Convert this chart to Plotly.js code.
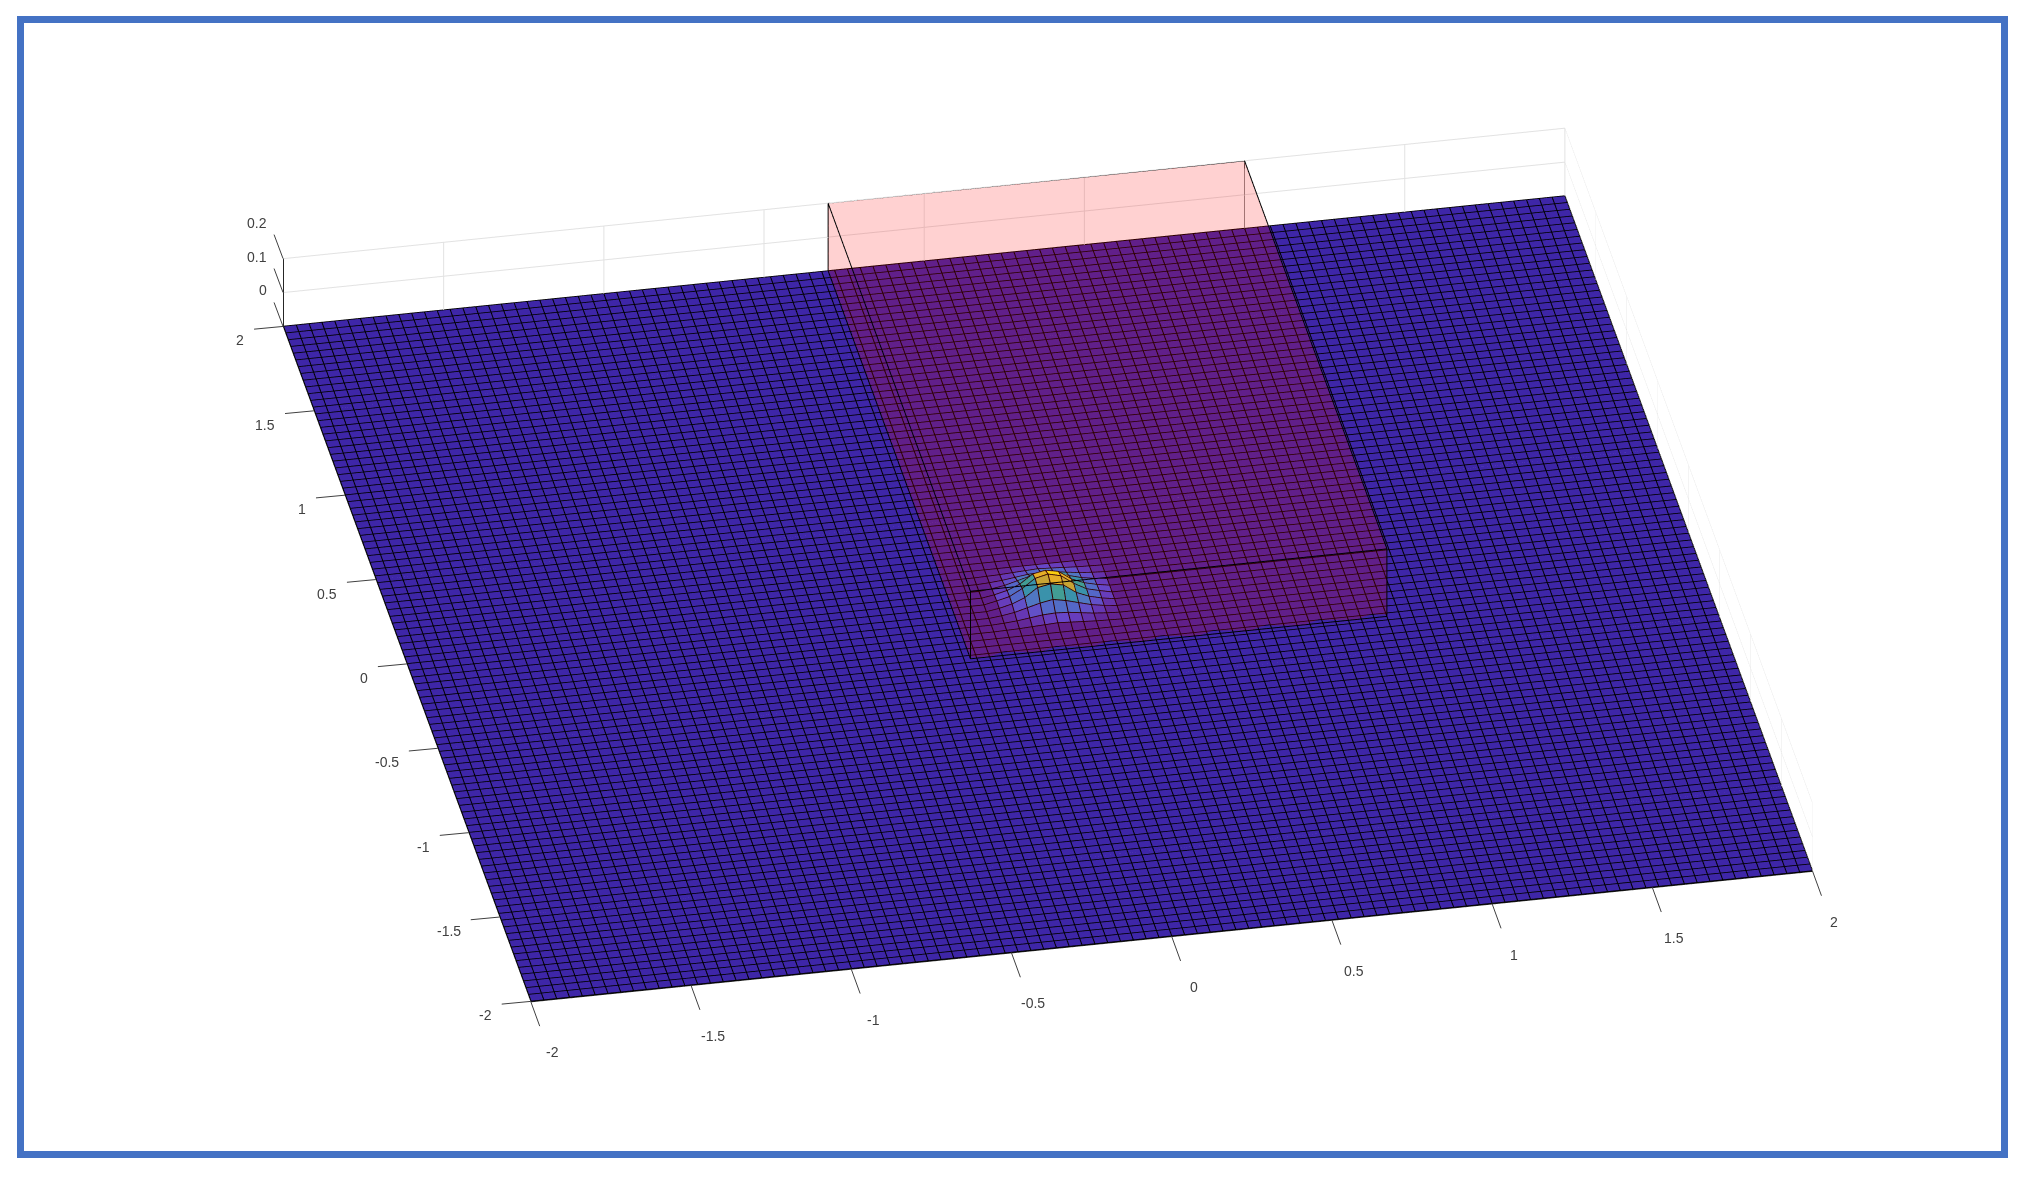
<!DOCTYPE html>
<html>
<head>
<meta charset="utf-8">
<script src="https://cdn.plot.ly/plotly-3.0.1.min.js"></script>
<style>
html, body { margin: 0; padding: 0; background: #fff; overflow: hidden; }
#chart { position: absolute; left: 0; top: 0; width: 2028px; height: 1177px; }
#frame { position: absolute; left: 17px; top: 16px; width: 1977px; height: 1128px; border: 7px solid #4472c4; pointer-events: none; }
</style>
</head>
<body>
<div id="chart"></div>
<div id="frame"></div>
<script>
var gridStart = -2;
var gridCount = 101;
var gridStep = 0.04;

// bump, centred on 0,0 (same step as the mesh)
var bumpValues = [
  [0.001, 0.002, 0.004, 0.006, 0.008, 0.006, 0.004, 0.002, 0.001],
  [0.002, 0.005, 0.010, 0.015, 0.017, 0.015, 0.010, 0.005, 0.002],
  [0.004, 0.010, 0.020, 0.030, 0.037, 0.030, 0.020, 0.010, 0.004],
  [0.006, 0.015, 0.030, 0.056, 0.063, 0.056, 0.030, 0.015, 0.006],
  [0.008, 0.017, 0.037, 0.063, 0.072, 0.063, 0.037, 0.017, 0.008],
  [0.006, 0.015, 0.030, 0.056, 0.063, 0.056, 0.030, 0.015, 0.006],
  [0.004, 0.010, 0.020, 0.030, 0.037, 0.030, 0.020, 0.010, 0.004],
  [0.002, 0.005, 0.010, 0.015, 0.017, 0.015, 0.010, 0.005, 0.002],
  [0.001, 0.002, 0.004, 0.006, 0.008, 0.006, 0.004, 0.002, 0.001]
];

var boxX = [-0.3, 1];
var boxY = [-0.3, 2];
var boxZ = [0.001, 0.2];

var xyTickVals = [-2, -1.5, -1, -0.5, 0, 0.5, 1, 1.5, 2];
var xyTickText = ['-2', '-1.5', '-1', '-0.5', '0', '0.5', '1', '1.5', '2'];
var zTickVals = [0, 0.1, 0.2];
var zTickText = ['0', '0.1', '0.2'];

var parula = [
  [0, '#3e26a8'], [0.1, '#4852f4'], [0.2, '#2f7cf5'], [0.3, '#2797eb'],
  [0.4, '#0fb0d4'], [0.5, '#12bebb'], [0.6, '#4cc782'], [0.7, '#93c950'],
  [0.8, '#c8c83c'], [0.9, '#e8d82c'], [1, '#f9fb15']
];

var gridAxis = [];
for (var n = 0; n < gridCount; n++) gridAxis.push(gridStart + n * gridStep);

// flat mesh with the bump dropped into the middle
var surfaceZ = [];
for (var r = 0; r < gridCount; r++) {
  var row = [];
  for (var c = 0; c < gridCount; c++) {
    var br = r - 46, bc = c - 46;
    row.push(bumpValues[br] && bumpValues[br][bc] !== undefined ? bumpValues[br][bc] : 0);
  }
  surfaceZ.push(row);
}

// mesh3d instead of surface: each cell gets one flat colour, like the original
var meshX = [], meshY = [], meshZ = [], faceI = [], faceJ = [], faceK = [], faceValue = [];
for (var r = 0; r < gridCount; r++) {
  for (var c = 0; c < gridCount; c++) {
    meshX.push(gridAxis[c]);
    meshY.push(gridAxis[r]);
    meshZ.push(surfaceZ[r][c]);
    if (r < gridCount - 1 && c < gridCount - 1) {
      var p = r * gridCount + c;
      faceI.push(p, p);
      faceJ.push(p + 1, p + gridCount + 1);
      faceK.push(p + gridCount + 1, p + gridCount);
      faceValue.push(surfaceZ[r][c], surfaceZ[r][c]);
    }
  }
}

var flatLight = {ambient: 1, diffuse: 0, specular: 0, fresnel: 0, roughness: 0.5};

var cells = {
  type: 'mesh3d',
  x: meshX,
  y: meshY,
  z: meshZ,
  i: faceI,
  j: faceJ,
  k: faceK,
  intensity: faceValue,
  intensitymode: 'cell',
  colorscale: parula,
  cmin: 0,
  cmax: 0.072,
  showscale: false,
  flatshading: true,
  lighting: flatLight,
  hoverinfo: 'skip'
};

// black cell borders, lifted a hair so they stay above the cells
var lineLift = 0.0007;
var lineX = [], lineY = [], lineZ = [];
for (var a = 0; a < gridCount; a++) {
  for (var b = 0; b < gridCount; b++) {
    lineX.push(gridAxis[b]); lineY.push(gridAxis[a]); lineZ.push(surfaceZ[a][b] + lineLift);
  }
  lineX.push(null); lineY.push(null); lineZ.push(null);
  for (var b = 0; b < gridCount; b++) {
    lineX.push(gridAxis[a]); lineY.push(gridAxis[b]); lineZ.push(surfaceZ[b][a] + lineLift);
  }
  lineX.push(null); lineY.push(null); lineZ.push(null);
}

var cellLines = {
  type: 'scatter3d',
  mode: 'lines',
  x: lineX,
  y: lineY,
  z: lineZ,
  line: {color: '#000000', width: 2},
  hoverinfo: 'skip',
  showlegend: false
};

// eight corners of the box, numbered x + 2y + 4z
var cornerX = [], cornerY = [], cornerZ = [];
for (var v = 0; v < 8; v++) {
  cornerX.push(boxX[v & 1]);
  cornerY.push(boxY[(v >> 1) & 1]);
  cornerZ.push(boxZ[(v >> 2) & 1]);
}

// only the faces toward the camera, so the pink stays a single layer
var boxFaces = {
  type: 'mesh3d',
  x: cornerX,
  y: cornerY,
  z: cornerZ,
  i: [4, 4, 0, 0, 0, 0],
  j: [5, 7, 1, 5, 2, 6],
  k: [7, 6, 5, 4, 6, 4],
  color: '#ff0000',
  opacity: 0.18,
  flatshading: true,
  lighting: flatLight,
  hoverinfo: 'skip'
};

var edgeOrder = [0, 1, 3, 2, 0, 4, 5, 7, 6, 4, null, 1, 5, null, 3, 7, null, 2, 6];
var boxEdges = {
  type: 'scatter3d',
  mode: 'lines',
  x: edgeOrder.map(function (e) { return e === null ? null : cornerX[e]; }),
  y: edgeOrder.map(function (e) { return e === null ? null : cornerY[e]; }),
  z: edgeOrder.map(function (e) { return e === null ? null : cornerZ[e]; }),
  line: {color: '#000000', width: 2},
  hoverinfo: 'skip',
  showlegend: false
};

function axisStyle(vals, low) {
  return {
    range: [low, vals[vals.length - 1]],
    tickmode: 'array',
    tickvals: vals,
    showticklabels: false,
    title: {text: ''},
    showgrid: true,
    gridcolor: '#e2e2e2',
    gridwidth: 2,
    zeroline: false,
    showline: true,
    linecolor: '#262626',
    linewidth: 2,
    ticks: '',
    showbackground: false,
    showspikes: false
  };
}

// gl3d ticks cannot lean the way these do, so ticks and labels are annotations
var tickFont = {family: 'Liberation Sans, Arial, sans-serif', size: 14, color: '#404040'};

function tickMark(x, y, z, ax, ay) {
  return {x: x, y: y, z: z, text: ' ', showarrow: true, arrowhead: 0, arrowwidth: 1,
    arrowcolor: '#404040', standoff: 0, ax: ax, ay: ay};
}

function tickLabel(x, y, z, text, anchor, dx, dy) {
  return {x: x, y: y, z: z, text: text, showarrow: false, font: tickFont,
    xanchor: anchor, yanchor: 'middle', xshift: dx, yshift: dy};
}

var annotations = [];
xyTickVals.forEach(function (val, idx) {
  annotations.push(tickMark(val, -2, 0, 12, 33));
  annotations.push(tickLabel(val, -2, 0, xyTickText[idx], 'center', 22, -51));
  annotations.push(tickMark(-2, val, 0, -32, 3));
  annotations.push(tickLabel(-2, val, 0, xyTickText[idx], 'right', -37, -14));
});
zTickVals.forEach(function (val, idx) {
  annotations.push(tickMark(-2, 2, val, -12, -32));
  annotations.push(tickLabel(-2, 2, val, zTickText[idx], 'right', -14, 36));
});

var layout = {
  width: 2028,
  height: 1177,
  margin: {l: 0, r: 0, t: 0, b: 0},
  paper_bgcolor: '#ffffff',
  showlegend: false,
  scene: {
    domain: {x: [0.0333, 1], y: [0.04, 1]},
    bgcolor: '#ffffff',
    aspectmode: 'manual',
    // orthographic scale follows the aspect ratio, not the eye distance
    aspectratio: {x: 2.31, y: 2.31, z: 0.142},
    camera: {
      projection: {type: 'orthographic'},
      up: {x: 0, y: 0, z: 1},
      center: {x: 0, y: 0, z: 0},
      eye: {x: -0.484, y: -2.505, z: 1.581}
    },
    xaxis: axisStyle(xyTickVals, -2),
    yaxis: axisStyle(xyTickVals, -2),
    // floor pushed a hair under the mesh so its grid does not show through
    zaxis: axisStyle(zTickVals, -0.001),
    annotations: annotations
  }
};

Plotly.newPlot('chart', [cells, cellLines, boxFaces, boxEdges], layout, {displayModeBar: false});
</script>
</body>
</html>
